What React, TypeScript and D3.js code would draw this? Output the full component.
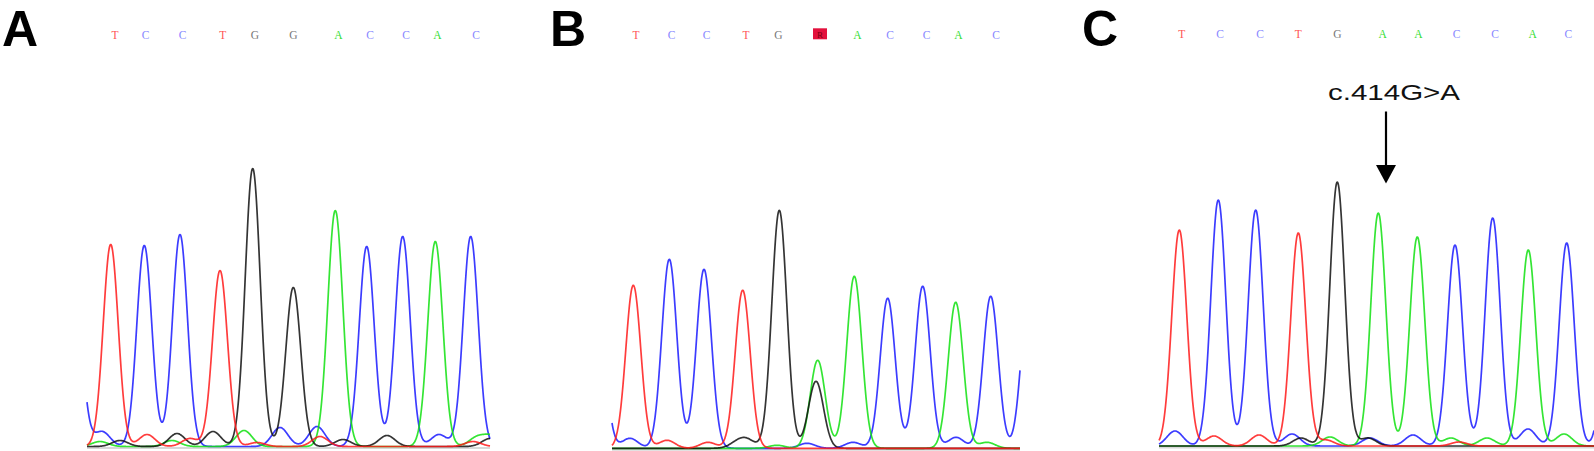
import React from "react";
import * as d3 from "d3";

// base colours of the traces and of the called letters
const traceColor: Record<string, string> = { A: "#10e010", C: "#1a1aff", G: "#111111", T: "#ff1a1a" };
const letterColor: Record<string, string> = { A: "#33dd33", C: "#8888ff", G: "#777777", T: "#ff5555" };

// panel A : wild type
const callsA = "TCCTGGACCAC";
const callPosA = [28, 58.7, 95.7, 135.7, 168, 206.3, 251.3, 283, 319, 350.3, 389];
const peaksA: [string, number, number][] = [
  ["C", -12, 150], ["T", 23.7, 202], ["C", 57.3, 201], ["C", 93, 212], ["T", 133, 176],
  ["G", 165.7, 278], ["G", 206.3, 159], ["A", 248.3, 236], ["C", 279.7, 200],
  ["C", 315.7, 210], ["A", 348.3, 205], ["C", 383.7, 210],
];
const bumpsA: [string, number, number][] = [
  ["C", 15, 15], ["C", 193, 19], ["C", 230, 20], ["C", 352, 12],
  ["G", 33, 6], ["G", 90, 13], ["G", 126, 15], ["G", 256, 7], ["G", 300, 11], ["G", 403, 8],
  ["A", 13, 5], ["A", 85, 6], ["A", 157, 16], ["A", 390, 9], ["A", 405, 10],
  ["T", 60, 12], ["T", 103, 8], ["T", 170, 4], ["T", 233, 10], ["T", 386, 5],
];

// panel B : heterozygous carrier
const callsB = "TCCTGRACCAC";
const callPosB = [24, 59.7, 94.7, 134, 166.3, 208, 245.3, 278, 314.7, 346.3, 384];
const peaksB: [string, number, number][] = [
  ["C", -14, 140], ["T", 21.3, 163], ["C", 57.3, 189], ["C", 92, 179], ["T", 130.7, 158],
  ["G", 167.3, 238], ["A", 205.7, 88], ["G", 204, 67], ["A", 242.3, 172],
  ["C", 275.7, 150], ["C", 310.7, 162], ["A", 343.7, 146], ["C", 378.7, 152], ["C", 417, 160],
];
const bumpsB: [string, number, number][] = [
  ["C", 18, 10], ["C", 195, 5], ["C", 241, 6], ["C", 344, 11],
  ["T", 55, 8], ["T", 96, 6],
  ["G", 125, 5], ["G", 135, 8],
  ["A", 165, 3], ["A", 375, 6],
];

// panel C : homozygous mutant
const callsC = "TCCTGAACCAC";
const callPosC = [22.7, 61, 101, 139.3, 178.3, 223.7, 259.3, 297.7, 336, 373.7, 409.3];
const peaksC: [string, number, number][] = [
  ["T", 20.3, 216], ["C", 59.3, 246], ["C", 96.7, 236], ["T", 139.3, 213],
  ["G", 178.3, 264], ["A", 219.3, 233], ["A", 258.3, 209], ["C", 296, 201],
  ["C", 333.7, 228], ["A", 369.3, 196], ["C", 407.7, 203], ["C", 452, 200],
];
const bumpsC: [string, number, number][] = [
  ["C", 16, 15], ["C", 133, 12], ["C", 211, 8], ["C", 254, 11], ["C", 369, 17],
  ["T", 55, 10], ["T", 100, 11], ["T", 167, 6], ["T", 300, 4],
  ["G", 142, 8], ["G", 209, 8],
  ["A", 171, 9], ["A", 292, 8], ["A", 328, 8], ["A", 405, 12],
];
const mutationLabel = "c.414G>A";
const mutationScan = 227;

const panels = [
  { label: "A", calls: callsA, callPos: callPosA, peaks: peaksA, bumps: bumpsA, x0: 87, x1: 490, width: 403, base: 446.5, labelX: 2, letterY: 39 },
  { label: "B", calls: callsB, callPos: callPosB, peaks: peaksB, bumps: bumpsB, x0: 612, x1: 1020, width: 408, base: 448.3, labelX: 550, letterY: 38.5 },
  { label: "C", calls: callsC, callPos: callPosC, peaks: peaksC, bumps: bumpsC, x0: 1159, x1: 1594, width: 435, base: 446, labelX: 1082, letterY: 37.5 },
];

// sum of the peaks of one base, sampled along the scan axis
function trace(base: string, peaks: [string, number, number][], bumps: [string, number, number][], width: number) {
  const pts: [number, number][] = [];
  for (let s = 0; s <= width; s += 0.5) {
    let v = 0;
    peaks.forEach(([b, at, h]) => {
      if (b === base) v += h * Math.exp(-((s - at) ** 2) / (2 * 7.5 * 7.5));
    });
    bumps.forEach(([b, at, h]) => {
      if (b === base) v += h * Math.exp(-((s - at) ** 2) / (2 * 8 * 8));
    });
    pts.push([s, v]);
  }
  return pts;
}

function Panel({ p }: { p: (typeof panels)[number] }) {
  const x = d3.scaleLinear().domain([0, p.width]).range([p.x0, p.x1]);
  const y = d3.scaleLinear().domain([0, 300]).range([p.base, p.base - 300]);
  const line = d3
    .line<[number, number]>()
    .x((d) => x(d[0]))
    .y((d) => y(d[1]))
    .curve(d3.curveMonotoneX);
  const order = ["C", "A", "G", "T"];
  return (
    <g>
      <text x={p.labelX} y={46} fontFamily="Liberation Sans, Arial, sans-serif" fontWeight="bold" fontSize={50} fill="#000">
        {p.label}
      </text>
      {p.calls.split("").map((c, i) =>
        c === "R" ? (
          <g key={i}>
            <rect x={x(p.callPos[i]) - 7} y={28.3} width={14} height={11} fill="#e3103c" />
            <text x={x(p.callPos[i])} y={37.5} textAnchor="middle" fontFamily="Liberation Serif, serif" fontSize={9} fill="#7a0010">R</text>
          </g>
        ) : (
          <text key={i} x={x(p.callPos[i])} y={p.letterY} textAnchor="middle" fontFamily="Liberation Serif, serif" fontSize={11.5} fill={letterColor[c]}>
            {c}
          </text>
        )
      )}
      <line x1={p.x0} x2={p.x1} y1={p.base + 1.5} y2={p.base + 1.5} stroke="#d8d8d8" strokeWidth={2} />
      {order.map((b) => (
        <path key={b} d={line(trace(b, p.peaks, p.bumps, p.width)) || ""} fill="none" stroke={traceColor[b]} strokeWidth={1.7} strokeOpacity={0.85} strokeLinejoin="round" />
      ))}
    </g>
  );
}

export default function App() {
  const pc = panels[2];
  const xc = d3.scaleLinear().domain([0, pc.width]).range([pc.x0, pc.x1]);
  const ax = xc(mutationScan);
  return (
    <svg width={1594} height={451} style={{ position: "absolute", left: 0, top: 0, background: "#fff" }}>
      <rect width={1594} height={451} fill="#fff" />
      {panels.map((p) => (
        <Panel key={p.label} p={p} />
      ))}
      <text x={ax + 8} y={100} textAnchor="middle" fontFamily="Liberation Sans, Arial, sans-serif" fontSize={22} textLength={132} lengthAdjust="spacingAndGlyphs" fill="#111">
        {mutationLabel}
      </text>
      <line x1={ax} x2={ax} y1={111.5} y2={168} stroke="#000" strokeWidth={2.2} />
      <path d={`M${ax - 10},165 L${ax + 10},165 L${ax},183.5 Z`} fill="#000" />
    </svg>
  );
}
